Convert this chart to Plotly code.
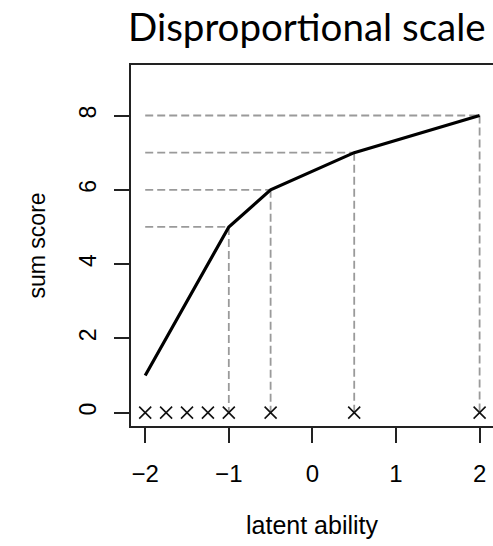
import plotly.graph_objects as go

# Data
theta_points = [-2, -1, -0.5, 0.5, 2]
sum_scores = [1, 5, 6, 7, 8]
marker_x = [-2, -1.75, -1.5, -1.25, -1, -0.5, 0.5, 2]
marker_y = [0, 0, 0, 0, 0, 0, 0, 0]
x_ticks = [-2, -1, 0, 1, 2]
y_ticks = [0, 2, 4, 6, 8]

W, H = 493, 546
L, R, T, B = 131, 0, 65, 120
PW, PH = W - L - R, H - T - B

fig = go.Figure()

# dashed guide lines (horizontal from left to point, vertical from point to 0)
hx, hy, vx, vy = [], [], [], []
for xv, yv in zip(theta_points[1:], sum_scores[1:]):
    hx += [theta_points[0], xv, None]
    hy += [yv, yv, None]
    vx += [xv, xv, None]
    vy += [yv, marker_y[0], None]

guide = dict(color="#9a9a9a", width=1.8, dash="8px,4px")
fig.add_trace(go.Scatter(x=hx, y=hy, mode="lines", line=guide, hoverinfo="skip"))
fig.add_trace(go.Scatter(x=vx, y=vy, mode="lines", line=guide, hoverinfo="skip"))

fig.add_trace(go.Scatter(x=theta_points, y=sum_scores, mode="lines",
                         line=dict(color="black", width=3.2)))
fig.add_trace(go.Scatter(x=marker_x, y=marker_y, mode="markers",
                         marker=dict(symbol="x-thin", size=12,
                                     line=dict(color="#111111", width=1.6))))

fam = "Liberation Sans, Arial, sans-serif"
xfont = dict(family=fam, size=24, color="black")
yfont = dict(family=fam, size=23, color="black")

fig.update_layout(
    width=W, height=H,
    margin=dict(l=L, r=R, t=T, b=B),
    paper_bgcolor="white", plot_bgcolor="white",
    showlegend=False,
    font=yfont,
    title=dict(text="Disproportional scale", x=128 / W, xanchor="left",
               y=1 - 28 / H, yanchor="middle",
               font=dict(family="Lato, Open Sans, sans-serif", size=38.5, color="black")),
    xaxis=dict(range=[-2.17, -2.17 + PW / 83.6], tickvals=x_ticks, ticks="outside",
               ticklen=15, tickwidth=2, tickcolor="#222", showline=True,
               linewidth=2, linecolor="#222", mirror=True, showgrid=False,
               zeroline=False, tickfont=xfont, ticklabelstandoff=10),
    yaxis=dict(range=[-0.36, 9.36], tickvals=y_ticks, ticks="outside",
               ticklen=15, tickwidth=2, tickcolor="#222", showline=True,
               linewidth=2, linecolor="#222", mirror=False, showgrid=False,
               zeroline=False, tickangle=-90, tickfont=yfont, ticklabelstandoff=9),
    annotations=[
        dict(text="latent ability", xref="paper", yref="paper",
             x=(312 - L) / PW, y=-(525 - (H - B)) / PH,
             xanchor="center", yanchor="middle", showarrow=False,
             font=dict(family=fam, size=25, color="black")),
        dict(text="sum score", xref="paper", yref="paper",
             x=(36 - L) / PW, y=0.5, textangle=-90,
             xanchor="center", yanchor="middle", showarrow=False, font=yfont),
    ],
)

fig.write_html("out.html", config={"displayModeBar": False},
               post_script="document.body.style.margin='0px';")
